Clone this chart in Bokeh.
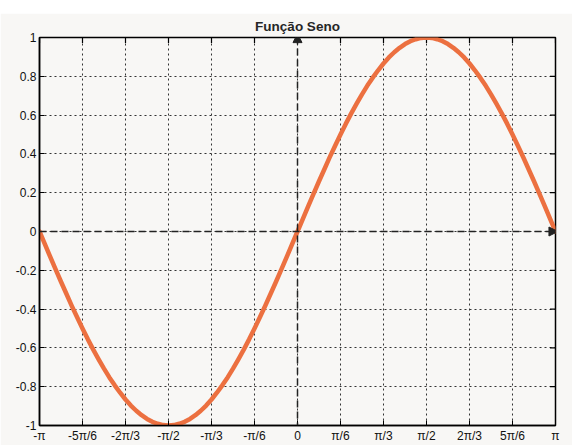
import math
from bokeh.plotting import figure
from bokeh.embed import file_html
from bokeh.resources import INLINE
from bokeh.models import Span, Arrow, NormalHead, FixedTicker, Spacer, Title
from bokeh.layouts import column

# ---- data ----
title_text = "Função Seno"
# sample positions in steps of pi/48, from -pi to pi
x_steps = list(range(-48, 49))
y_vals = [
    0.000, -0.065, -0.131, -0.195, -0.259, -0.321, -0.383, -0.442, -0.500,
    -0.556, -0.609, -0.659, -0.707, -0.752, -0.793, -0.831, -0.866, -0.897,
    -0.924, -0.947, -0.966, -0.981, -0.991, -0.998, -1.000, -0.998, -0.991,
    -0.981, -0.966, -0.947, -0.924, -0.897, -0.866, -0.831, -0.793, -0.752,
    -0.707, -0.659, -0.609, -0.556, -0.500, -0.442, -0.383, -0.321, -0.259,
    -0.195, -0.131, -0.065,
    0.000, 0.065, 0.131, 0.195, 0.259, 0.321, 0.383, 0.442, 0.500,
    0.556, 0.609, 0.659, 0.707, 0.752, 0.793, 0.831, 0.866, 0.897,
    0.924, 0.947, 0.966, 0.981, 0.991, 0.998, 1.000, 0.998, 0.991,
    0.981, 0.966, 0.947, 0.924, 0.897, 0.866, 0.831, 0.793, 0.752,
    0.707, 0.659, 0.609, 0.556, 0.500, 0.442, 0.383, 0.321, 0.259,
    0.195, 0.131, 0.065, 0.000,
]
x_tick_steps = [-6, -5, -4, -3, -2, -1, 0, 1, 2, 3, 4, 5, 6]   # multiples of pi/6
x_tick_labels = ["-π", "-5π/6", "-2π/3", "-π/2", "-π/3", "-π/6", "0",
                 "π/6", "π/3", "π/2", "2π/3", "5π/6", "π"]
y_ticks = [-1, -0.8, -0.6, -0.4, -0.2, 0, 0.2, 0.4, 0.6, 0.8, 1]
y_tick_labels = ["-1", "-0.8", "-0.6", "-0.4", "-0.2", "0", "0.2", "0.4",
                 "0.6", "0.8", "1"]

xs = [k * math.pi / 48 for k in x_steps]
x_ticks = [k * math.pi / 6 for k in x_tick_steps]

BG = "#f8f7f5"
FONT = "Liberation Sans"

p = figure(width=572, height=432, x_range=(-math.pi, math.pi), y_range=(-1, 1),
           output_backend="svg", toolbar_location=None,
           min_border_left=39, min_border_right=17, min_border_top=24,
           min_border_bottom=17)
p.background_fill_color = BG
p.border_fill_color = BG
p.outline_line_color = "black"
p.outline_line_width = 1.5

p.title = Title(text=title_text, align="center", text_font=FONT,
                text_font_size="13.5px", text_font_style="bold",
                text_color="#262626", standoff=7)

# axes
xa = p.xaxis[0]
ya = p.yaxis[0]
xa.ticker = FixedTicker(ticks=x_ticks)
xa.major_label_overrides = {t: l for t, l in zip(x_ticks, x_tick_labels)}
ya.ticker = FixedTicker(ticks=y_ticks)
ya.major_label_overrides = {t: l for t, l in zip(y_ticks, y_tick_labels)}
for ax in (xa, ya):
    ax.major_tick_in = 5
    ax.major_tick_out = 0
    ax.minor_tick_line_color = None
    ax.axis_line_width = 1.5
    ax.axis_line_color = "black"
    ax.major_tick_line_color = "black"
    ax.major_label_text_font = FONT
    ax.major_label_text_font_size = "12px"
    ax.major_label_text_color = "#111111"
    ax.major_label_standoff = 3

# grid
for g in (p.xgrid[0], p.ygrid[0]):
    g.grid_line_color = "#333333"
    g.grid_line_dash = "2 3"
    g.grid_line_width = 1
p.xgrid[0].ticker = FixedTicker(ticks=x_ticks)
p.ygrid[0].ticker = FixedTicker(ticks=y_ticks)

# inward ticks on the right and top edges (half of each dash is clipped)
p.scatter([math.pi] * len(y_ticks), y_ticks, marker="dash", size=11,
          line_color="black", line_width=1.2)
p.scatter(x_ticks, [1] * len(x_ticks), marker="dash", size=11, angle=math.pi / 2,
          line_color="black", line_width=1.2)

# origin axes (dashed) with arrowheads
p.add_layout(Span(location=0, dimension="width", line_color="#222222",
                  line_dash="7 4", line_width=1.5))
p.add_layout(Span(location=0, dimension="height", line_color="#222222",
                  line_dash="7 4", line_width=1.5))
p.add_layout(Arrow(end=NormalHead(size=9, fill_color="#222222", line_color="#222222"),
                   x_start=0, y_start=0.9, x_end=0, y_end=1.02, line_alpha=0))
p.add_layout(Arrow(end=NormalHead(size=9, fill_color="#222222", line_color="#222222"),
                   x_start=3.0, y_start=0, x_end=math.pi + 0.03, y_end=0, line_alpha=0))

# sine curve
p.line(xs, y_vals, line_color="#ec7040", line_width=4.5, line_join="round",
       line_cap="round")

layout = column(Spacer(height=13, width=572), p, spacing=0)
open("out.html", "w").write(file_html(layout, INLINE))
